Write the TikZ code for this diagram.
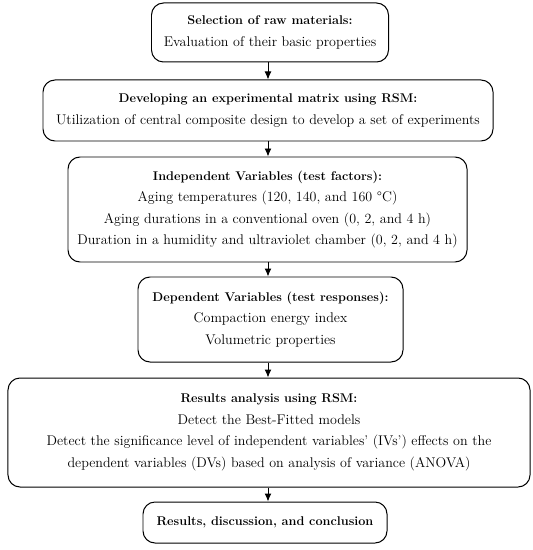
\documentclass[tikz,border=0pt]{standalone}
\usepackage{tikz}
\usetikzlibrary{arrows.meta}
\tikzset{flow box/.style={draw,line width=1pt,rounded corners=12bp,align=center,inner sep=2pt,
    font=\fontsize{14.1}{21.7}\selectfont},}
\newcommand\boxhead[1]{{\fontsize{12.7}{21.7}\selectfont\textbf{#1}}}

\begin{document}
\begin{tikzpicture}[x=1bp,y=-1bp,>={Latex[length=8bp,width=7bp]}]
  \useasboundingbox (0,0) rectangle (533,550);
  %% Nodes
  \node[flow box,minimum width=237bp,minimum height=59bp] (select) at (270,32.5)
    {\boxhead{Selection of raw materials:}\\Evaluation of their basic properties};
  \node[flow box,minimum width=450bp,minimum height=61bp] (matrix) at (268,110.5)
    {\boxhead{Developing an experimental matrix using RSM:}\\Utilization of central composite design to develop a set of experiments};
  \node[flow box,minimum width=399bp,minimum height=105bp] (indep) at (267.5,209.5)
    {\boxhead{Independent Variables (test factors):}\\Aging temperatures (120, 140, and 160 \textdegree C)\\Aging durations in a conventional oven (0, 2, and 4 h)\\Duration in a humidity and ultraviolet chamber (0, 2, and 4 h)};
  \node[flow box,minimum width=265bp,minimum height=85bp] (dep) at (270.5,319.5)
    {\boxhead{Dependent Variables (test responses):}\\Compaction energy index\\Volumetric properties};
  \node[flow box,minimum width=522bp,minimum height=109bp] (analysis) at (269,432.5)
    {\boxhead{Results analysis using RSM:}\\Detect the Best-Fitted models\\Detect the significance level of independent variables' (IVs') effects on the\\dependent variables (DVs) based on analysis of variance (ANOVA)};
  \node[flow box,minimum width=244bp,minimum height=41bp] (result) at (265,522.5)
    {\boxhead{Results, discussion, and conclusion}};
  %% Paths
  \path[draw,line width=1pt]
    (select.south -| matrix.north) edge[->] (matrix.north)
    (matrix.south) edge[->] (matrix.south |- indep.north)
    (matrix.south |- indep.south) edge[->] (matrix.south |- dep.north)
    (matrix.south |- dep.south) edge[->] (matrix.south |- analysis.north)
    (matrix.south |- analysis.south) edge[->] (matrix.south |- result.north);
\end{tikzpicture}
\end{document}
